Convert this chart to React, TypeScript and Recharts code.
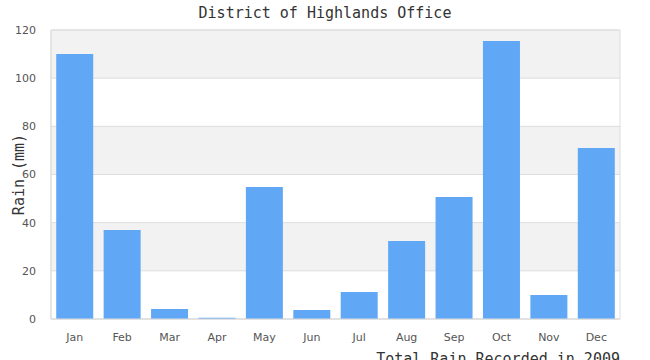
import React from 'react';
import { BarChart, Bar, XAxis, YAxis, CartesianGrid, ReferenceArea, Label } from 'recharts';

const months = ['Jan', 'Feb', 'Mar', 'Apr', 'May', 'Jun', 'Jul', 'Aug', 'Sep', 'Oct', 'Nov', 'Dec'];
const rain = [110, 37, 4.2, 0.5, 54.8, 3.7, 11.2, 32.4, 50.7, 115.4, 10, 71];
const yTicks = [0, 20, 40, 60, 80, 100, 120];

const data = months.map((m, i) => ({ month: m, rain: rain[i] }));

const mono = '"DejaVu Sans Mono", monospace';
const sans = '"DejaVu Sans", sans-serif';

const YLabel = (props: any) => {
  const vb = props.viewBox || {};
  const cx = 19;
  const cy = (vb.y ?? 30) + (vb.height ?? 289) / 2;
  return (
    <text x={cx} y={cy} transform={`rotate(-90, ${cx}, ${cy})`} textAnchor="middle" dominantBaseline="central"
      style={{ fontFamily: mono, fontSize: 15, fill: '#333' }}>
      Rain (mm)
    </text>
  );
};

export default function App() {
  return (
    <div style={{ position: 'absolute', left: 0, top: 0, width: 650, height: 360, overflow: 'hidden', background: '#fff' }}>
      <div style={{ position: 'absolute', left: 0, top: 4, width: 650, textAlign: 'center', fontFamily: mono, fontSize: 15, color: '#333' }}>
        District of Highlands Office
      </div>
      <BarChart width={650} height={360} data={data} margin={{ top: 30, right: 30, bottom: 0, left: 0 }} barCategoryGap="11%">
        <CartesianGrid vertical={false} stroke="#dddddd" horizontalFill={['#f2f2f2', '#ffffff']} />
        <XAxis dataKey="month" height={41} axisLine={{ stroke: '#dddddd' }} tickLine={false} tick={{ fill: '#555', fontSize: 11, fontFamily: sans }} tickMargin={8}>
          <Label value="Total Rain Recorded in 2009" position="insideBottomRight" offset={0} dy={4} style={{ fontFamily: mono, fontSize: 15, fill: '#333' }} />
        </XAxis>
        <YAxis domain={[0, 120]} ticks={yTicks} width={51} axisLine={{ stroke: '#dddddd' }} tickLine={false} tick={{ fill: '#555', fontSize: 11, fontFamily: sans }} tickMargin={9}>
          <Label content={YLabel} />
        </YAxis>
        <ReferenceArea y1={0} y2={120} fill="none" stroke="#dddddd" ifOverflow="visible" />
        <Bar dataKey="rain" fill="#60a8f6" isAnimationActive={false} />
      </BarChart>
    </div>
  );
}
